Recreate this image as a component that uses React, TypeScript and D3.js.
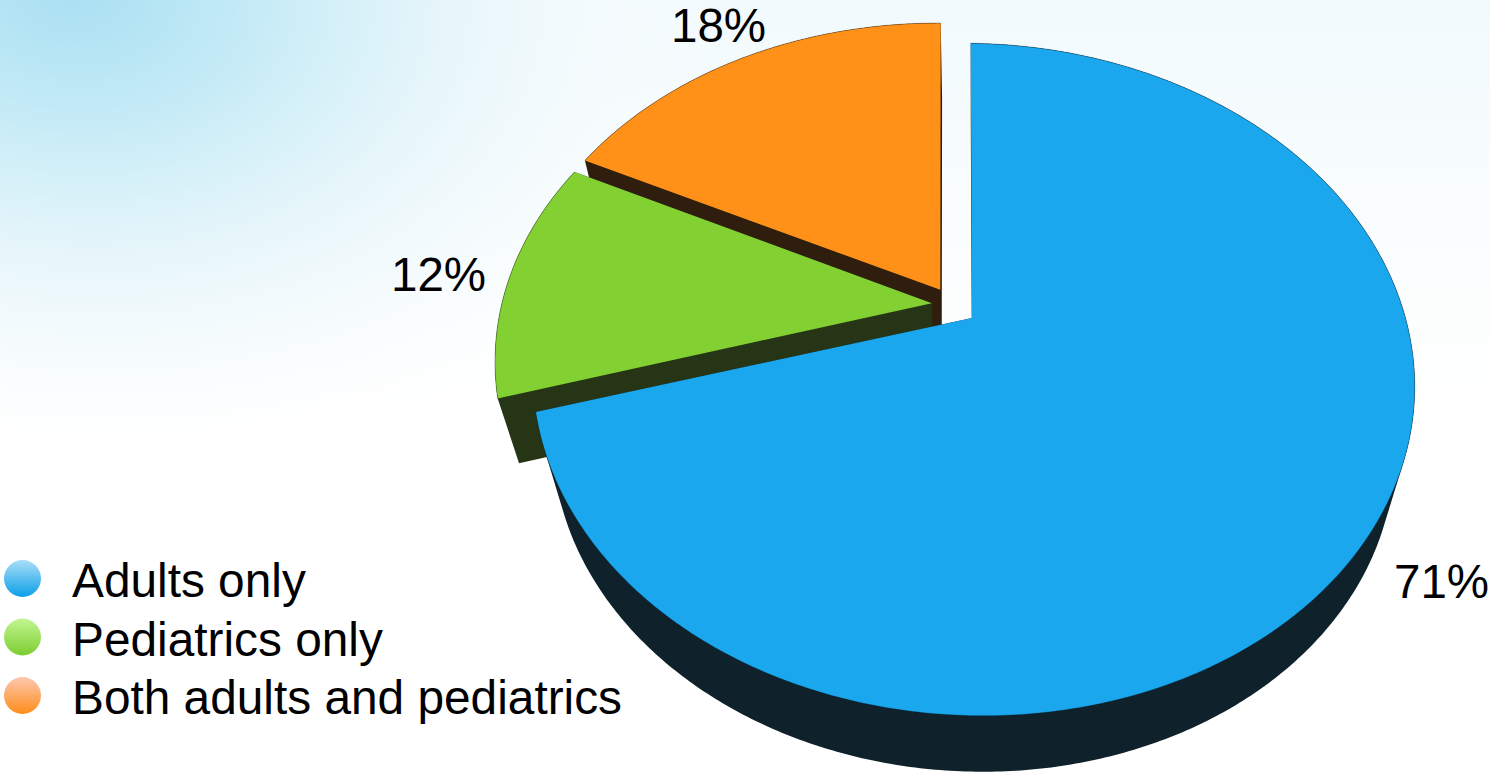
import React from "react";
import * as d3 from "d3";

// ---- data ----
const categories = ["Adults only", "Pediatrics only", "Both adults and pediatrics"];
const values = [71, 12, 18];
const pctLabels = ["71%", "12%", "18%"];
const topColors = ["#1aa7ee", "#82d032", "#ff9119"];
const wallColors = ["#0f222c", "#263516", "#2f1d0e"];
const legendLight = ["#a9def8", "#c2f692", "#fcc8b0"];
const legendDark = ["#0c9fe8", "#7ccd30", "#ff8c1a"];

// ---- styling / layout ----
const W = 1490;
const H = 772;
const CX = 972;
const CY = 318;
const RX = 433.5;
const RY = 325;
const K = -0.183; // perspective strength
const SHEAR = 0.028; // the disc is slightly skewed in the picture
const DEG = Math.PI / 180;
const spin = [1 * DEG, 0.5 * DEG, 0.5 * DEG];
const explode: [number, number][] = [
  [0, 0],
  [-0.0925, -0.046],
  [-0.0725, -0.088],
];
const labelPos: [number, number][] = [
  [1394, 598],
  [391, 291],
  [671, 42],
];
const legendY = [578.5, 637, 695.5];
const legendBase = [597, 655.5, 714];
const FONT = "'Liberation Sans', Arial, Helvetica, sans-serif";

type P = [number, number];
const project = (u: number, v: number): P => {
  const w = 1 + K * v;
  const y = (RY * v) / w;
  return [CX + (RX * u) / w + SHEAR * y, CY + y];
};
const toFloor = ([x, y]: P): P => [CX + (x - CX) * 0.955, y * 0.972 + 76];

const line = d3.line<P>();
const closed = (pts: P[]) => {
  const ordered = d3.polygonArea(pts) < 0 ? [...pts].reverse() : pts;
  return (line(ordered) as string) + "Z";
};

const arcs = d3.pie<number>().sort(null).startAngle(0).endAngle(2 * Math.PI)(values);

const slices = arcs.map((a, i) => {
  const [du, dv] = explode[i];
  const steps = Math.ceil((a.endAngle - a.startAngle) / 0.01);
  const angle = d3
    .scaleLinear()
    .domain([0, steps])
    .range([a.startAngle + spin[i], a.endAngle + spin[i]]);
  const rim: P[] = d3.range(steps + 1).map((s) => {
    const t = angle(s);
    return project(Math.sin(t) + du, -Math.cos(t) + dv);
  });
  const apex = project(du, dv);
  const top: P[] = [apex, ...rim];
  const floor = top.map(toFloor);
  const wallParts = [closed(floor)];
  top.forEach((p, j) => {
    const n = (j + 1) % top.length;
    wallParts.push(closed([p, top[n], floor[n], floor[j]]));
  });
  return { top: closed(top), rim: line(rim) as string, wall: wallParts.join(" ") };
});

const drawOrder = [2, 1, 0];

export default function App() {
  return (
    <svg
      width={W}
      height={H}
      viewBox={`0 0 ${W} ${H}`}
      style={{ position: "absolute", left: 0, top: 0, display: "block" }}
    >
      <defs>
        <linearGradient id="bgTop" x1="0" y1="0" x2="0" y2="1">
          <stop offset="0" stopColor="#f1fafd" />
          <stop offset="0.3" stopColor="#fafdfe" />
          <stop offset="0.55" stopColor="#ffffff" />
        </linearGradient>
        <radialGradient
          id="bgCorner"
          gradientUnits="userSpaceOnUse"
          cx="0"
          cy="0"
          r="1"
          gradientTransform="translate(70 -10) rotate(6) scale(660 470)"
        >
          <stop offset="0" stopColor="#a9dff2" stopOpacity="1" />
          <stop offset="0.25" stopColor="#c2eaf6" stopOpacity="1" />
          <stop offset="0.55" stopColor="#e4f5fa" stopOpacity="0.95" />
          <stop offset="0.8" stopColor="#f5fbfd" stopOpacity="0.7" />
          <stop offset="1" stopColor="#fcfeff" stopOpacity="0" />
        </radialGradient>
        {categories.map((_, i) => (
          <linearGradient key={i} id={`lg${i}`} x1="0" y1="0" x2="0" y2="1">
            <stop offset="0" stopColor={legendLight[i]} />
            <stop offset="1" stopColor={legendDark[i]} />
          </linearGradient>
        ))}
      </defs>

      <rect width={W} height={H} fill="#ffffff" />
      <rect width={W} height={H} fill="url(#bgTop)" />
      <rect width={W} height={H} fill="url(#bgCorner)" />

      {drawOrder.map((i) => (
        <g key={i}>
          <path d={slices[i].wall} fill={wallColors[i]} />
          <path d={slices[i].top} fill={topColors[i]} />
          <path d={slices[i].rim} fill="none" stroke="#000" strokeOpacity={0.3} strokeWidth={1} />
        </g>
      ))}

      {pctLabels.map((t, i) => (
        <text key={t} x={labelPos[i][0]} y={labelPos[i][1]} fontFamily={FONT} fontSize={47.5} fill="#000">
          {t}
        </text>
      ))}

      {categories.map((c, i) => (
        <g key={c}>
          <circle cx={22.5} cy={legendY[i]} r={18.5} fill={`url(#lg${i})`} />
          <text x={72} y={legendBase[i]} fontFamily={FONT} fontSize={47.8} fill="#000">
            {c}
          </text>
        </g>
      ))}
    </svg>
  );
}
